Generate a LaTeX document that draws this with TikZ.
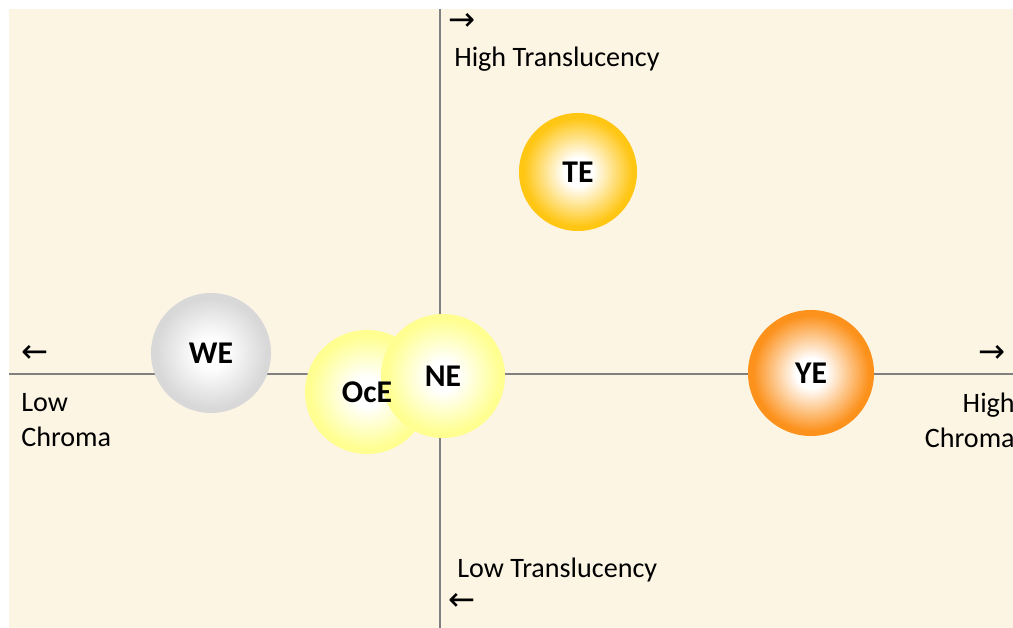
\documentclass[tikz,border=0pt]{standalone}
\usepackage{fontspec}
\setmainfont{Carlito}
\newfontfamily\arrowfont{DejaVu Sans}
\usepackage{tikz}
\usetikzlibrary{shapes,backgrounds}
\definecolor{chart-cream}{RGB}{253,245,228}
\definecolor{axis-gray}{RGB}{128,128,128}
\definecolor{te-gold}{RGB}{255,198,20}
\definecolor{ye-orange}{RGB}{252,145,28}
\definecolor{we-gray}{RGB}{216,216,216}
\definecolor{ne-yellow}{RGB}{255,255,145}
\newcommand{\blobShading}[2]{
	\pgfdeclareradialshading{#1}{\pgfpoint{0bp}{0bp}}{color(0bp)=(white); color(6bp)=(white); color(23bp)=(#2); color(25bp)=(#2); color(50bp)=(#2)}
}
\blobShading{te-shade}{te-gold}
\blobShading{ye-shade}{ye-orange}
\blobShading{we-shade}{we-gray}
\blobShading{ne-shade}{ne-yellow}
\tikzstyle{axis}=[draw=axis-gray, line width=1.4pt]
\tikzstyle{blob}=[circle, inner sep=0pt, shade]
\tikzstyle{blobname}=[inner sep=0pt, font=\fontsize{22.5}{27}\selectfont\bfseries]
\tikzstyle{axislabel}=[inner sep=0pt, font=\fontsize{20}{25}\selectfont]
\tikzstyle{tip}=[inner sep=0pt, font=\arrowfont\fontsize{23}{26}\selectfont]

\begin{document}
\begin{tikzpicture}[x=0.025cm, y=-0.025cm]
	\useasboundingbox (0,0) rectangle (1013,628);
	\fill[chart-cream] (9,9) rectangle (1013,628);
	\coordinate (xl) at (9,374);
	\coordinate (xr) at (1013,374);
	\coordinate (yt) at (440,9);
	\coordinate (yb) at (440,628);
	\draw[axis] (xl) -- (xr);
	\draw[axis] (yt) -- (yb);
	\node[blob, shading=te-shade, minimum size=2.95cm] (te) at (578,172) {};
	\node[blob, shading=we-shade, minimum size=3cm] (we) at (211,353) {};
	\node[blob, shading=ne-shade, minimum size=3.1cm] (oce) at (367,392) {};
	\node[blob, shading=ne-shade, minimum size=3.1cm] (ne) at (443,376) {};
	\node[blob, shading=ye-shade, minimum size=3.15cm] (ye) at (811,373) {};
	\node[blobname] (te-name) at (te) {TE};
	\node[blobname] (we-name) at (we) {WE};
	\node[blobname] (oce-name) at (oce) {OcE};
	\node[blobname] (ne-name) at (ne) {NE};
	\node[blobname] (ye-name) at (ye) {YE};
	\node[tip] (uptip) at (462,22) {→};
	\node[axislabel, anchor=west] (hitrans) at (454,59) {High Translucency};
	\node[axislabel, anchor=west] (lotrans) at (457,570) {Low Translucency};
	\node[tip] (downtip) at (462,602) {←};
	\node[tip] (lefttip) at (35,354) {←};
	\node[axislabel, anchor=west, align=left] (lochroma) at (21,420) {Low\\Chroma};
	\node[tip] (righttip) at (992,354) {→};
	\node[axislabel, anchor=east, align=right] (hichroma) at (1015,420) {High\\Chroma};
\end{tikzpicture}
\end{document}
